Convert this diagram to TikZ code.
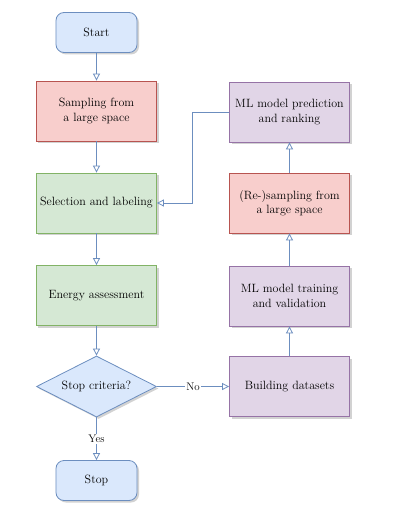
\documentclass[tikz,border=0pt]{standalone}
\usepackage{tikz}
\usetikzlibrary{shapes.geometric,arrows.meta,shadows}
\definecolor{bluefill}{HTML}{DAE8FC}
\definecolor{blueline}{HTML}{6C8EBF}
\definecolor{redfill}{HTML}{F8CECC}
\definecolor{redline}{HTML}{B85450}
\definecolor{greenfill}{HTML}{D5E8D4}
\definecolor{greenline}{HTML}{82B366}
\definecolor{purplefill}{HTML}{E1D5E7}
\definecolor{purpleline}{HTML}{9673A6}
\tikzset{
  block/.style     = {shape=rectangle, draw, align=center,
                      minimum width=120pt, minimum height=60pt,
                      line width=0.8pt, font=\fontsize{12}{14.5}\selectfont,
                      drop shadow={shadow xshift=2pt, shadow yshift=-2pt,
                                   fill=black!35, opacity=0.5}},
  terminal/.style  = {block, rounded corners=8pt, minimum width=81pt,
                      minimum height=40pt, draw=blueline, fill=bluefill},
  samplebox/.style = {block, draw=redline, fill=redfill},
  labelbox/.style  = {block, draw=greenline, fill=greenfill},
  mlbox/.style     = {block, draw=purpleline, fill=purplefill},
  decision/.style  = {block, shape=diamond, aspect=2, inner sep=0pt,
                      minimum height=61pt, draw=blueline, fill=bluefill},
  flow/.style      = {draw=blueline, line width=0.8pt,
                      -{Triangle[open, length=7pt, width=7pt]}},
  choice/.style    = {fill=white, inner sep=1pt,
                      font=\fontsize{11}{13}\selectfont}
}

\begin{document}
\begin{tikzpicture}
  [
    node distance           = 92pt,
    every edge/.append style = {flow}
  ]
  \useasboundingbox (-96.5pt,32.5pt) rectangle (316.5pt,-494.5pt);

  \node [terminal] (start) {Start};
  \node [samplebox] (sample) [below of=start, node distance=78.5pt] {Sampling from\\a large space};
  \node [labelbox] (select) [below of=sample] {Selection and labeling};
  \node [labelbox] (energy) [below of=select, node distance=92.5pt] {Energy assessment};
  \node [decision] (crit) [below of=energy, node distance=91pt] {Stop criteria?};
  \node [terminal] (stop) [below of=crit, node distance=94pt] {Stop};

  \node [mlbox] (pred) [right of=sample, node distance=193pt, yshift=-1pt] {ML model prediction\\and ranking};
  \node [samplebox] (resample) [below of=pred, node distance=91pt] {(Re-)sampling from\\a large space};
  \node [mlbox] (train) [below of=resample, node distance=93pt] {ML model training\\and validation};
  \node [mlbox] (build) [right of=crit, node distance=193pt] {Building datasets};

  \path
    (start) edge (sample)
    (sample) edge (select)
    (select) edge (energy)
    (energy) edge (crit)
    (crit) edge node [choice] {Yes} (stop)
    (crit) edge node [choice] {No} (build)
    (build) edge (train)
    (train) edge (resample)
    (resample) edge (pred);

  \draw [flow] (pred.west) -- ++(-37pt,0) |- (select.east);

\end{tikzpicture}
\end{document}
